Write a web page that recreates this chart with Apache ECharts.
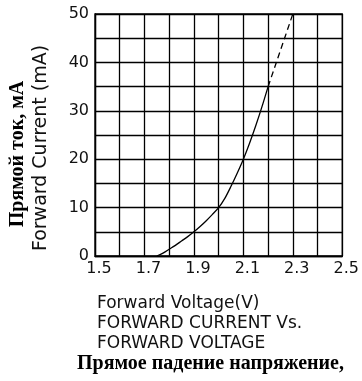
<!DOCTYPE html>
<html>
<head>
<meta charset="utf-8">
<script src="https://cdn.jsdelivr.net/npm/echarts@6/dist/echarts.min.js"></script>
<style>html,body{margin:0;padding:0;background:#fff;}#c{width:362px;height:381px;}</style>
</head>
<body>
<div id="c"></div>
<script>
// Data (estimated along the curve)
var solidVoltage = [1.75, 1.775, 1.8, 1.825, 1.85, 1.875, 1.9, 1.925, 1.95, 1.975, 2.0, 2.025, 2.05, 2.075, 2.1, 2.125, 2.15, 2.175, 2.2];
var solidCurrent = [0, 0.6, 1.4, 2.2, 3.1, 4.0, 5.0, 6.1, 7.3, 8.6, 10.0, 11.9, 14.4, 17.1, 20.0, 23.3, 26.9, 30.8, 35.0];
var dashedVoltage = [2.2, 2.25, 2.3];
var dashedCurrent = [35.0, 42.5, 50.0];
var xTicks = ['1.5', '1.7', '1.9', '2.1', '2.3', '2.5'];
var yTicks = ['0', '10', '20', '30', '40', '50'];

function pairs(xs, ys) { return xs.map(function (x, i) { return [x, ys[i]]; }); }

var chart = echarts.init(document.getElementById('c'), null, { renderer: 'canvas' });
var cadFont = 'DejaVu Sans';
chart.setOption({
  animation: false,
  backgroundColor: '#fff',
  grid: { left: 95, right: 17, top: 14, bottom: 125, show: true, borderColor: '#000', borderWidth: 1.3 },
  xAxis: {
    type: 'value', min: 1.5, max: 2.5, interval: 0.1,
    axisLine: { show: true, lineStyle: { color: '#000', width: 1.3 } },
    axisTick: { show: false },
    splitLine: { show: true, lineStyle: { color: '#000', width: 1.3 } },
    axisLabel: {
      color: '#111', fontFamily: cadFont, fontSize: 16, margin: 5, padding: [0, 0, 0, 8],
      formatter: function (v) {
        var s = (Math.round(v * 10) / 10).toFixed(1);
        return xTicks.indexOf(s) >= 0 ? s : '';
      }
    }
  },
  yAxis: {
    type: 'value', min: 0, max: 50, interval: 5,
    axisLine: { show: true, lineStyle: { color: '#000', width: 1.3 } },
    axisTick: { show: false },
    splitLine: { show: true, lineStyle: { color: '#000', width: 1.3 } },
    axisLabel: {
      color: '#111', fontFamily: cadFont, fontSize: 16, margin: 6,
      formatter: function (v) {
        var s = String(Math.round(v));
        return yTicks.indexOf(s) >= 0 ? s : '';
      }
    }
  },
  series: [
    {
      type: 'line', data: pairs(solidVoltage, solidCurrent), smooth: 0.3, symbol: 'none',
      lineStyle: { color: '#000', width: 1.3 }, z: 5
    },
    {
      type: 'line', data: pairs(dashedVoltage, dashedCurrent), smooth: false, symbol: 'none',
      lineStyle: { color: '#000', width: 1.3, type: [6, 4] }, z: 5
    }
  ],
  graphic: [
    { type: 'text', left: 97, top: 295, style: { text: 'Forward Voltage(V)', font: '17px "DejaVu Sans"', fill: '#111' } },
    { type: 'text', left: 97, top: 315, style: { text: 'FORWARD CURRENT Vs.', font: '17px "DejaVu Sans"', fill: '#111' } },
    { type: 'text', left: 97, top: 335, style: { text: 'FORWARD VOLTAGE', font: '17px "DejaVu Sans"', fill: '#111' } },
    { type: 'text', left: 77, top: 354, style: { text: 'Прямое падение напряжение,', font: 'bold 20px "Liberation Serif"', fill: '#000' } },
    { type: 'text', x: 41, y: 148, rotation: Math.PI / 2, style: { text: 'Forward Current (mA)', font: '19px "DejaVu Sans"', fill: '#111', align: 'center', verticalAlign: 'middle' } },
    { type: 'text', x: 18, y: 154, rotation: Math.PI / 2, style: { text: 'Прямой ток, мА', font: 'bold 20px "Liberation Serif"', fill: '#000', align: 'center', verticalAlign: 'middle' } }
  ]
});
</script>
</body>
</html>
